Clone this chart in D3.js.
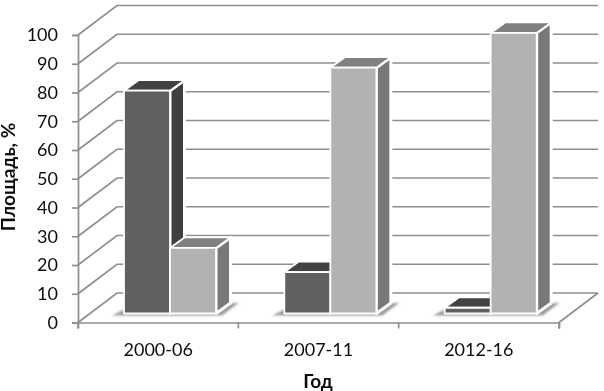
<!DOCTYPE html>
<html>
<head>
<meta charset="utf-8">
<script src="https://cdn.jsdelivr.net/npm/d3@7"></script>
<style>
  html, body { margin: 0; padding: 0; background: #fff; }
  svg { display: block; }
  text { font-family: Lato, "Open Sans", sans-serif; fill: #111; }
</style>
</head>
<body>
<div id="chart"></div>
<script>
var categories = ["2000-06", "2007-11", "2012-16"];
var seriesNames = ["a", "b"];
var seriesA = [77.5, 14.4, 2];
var seriesB = [22.8, 85.5, 97.6];
var yTicks = [0, 10, 20, 30, 40, 50, 60, 70, 80, 90, 100];

var width = 604, height = 391;

// front edge of the floor
var x0 = 78, x1 = 559, yBase = 322.5, yTop = 35;
// shift from front edge to back wall, and from front edge to the bars' plane
var wall = {dx: 39, dy: -29.5};
var plane = {dx: 12, dy: -9};
var depth = {dx: 14.5, dy: -10.5};

var colors = {
  a: {front: "#606060", top: "#424242", side: "#3f3f3f"},
  b: {front: "#b2b2b2", top: "#808080", side: "#787878"}
};
var gridColor = "#8e8e8e";

var svg = d3.select("#chart")
  .append("svg")
    .attr("width", width)
    .attr("height", height);

var defs = svg.append("defs");
defs.append("filter").attr("id", "soft")
    .attr("x", "-20%").attr("y", "-50%").attr("width", "140%").attr("height", "200%")
  .append("feGaussianBlur").attr("stdDeviation", 1.3);
defs.append("filter").attr("id", "txt")
  .append("feGaussianBlur").attr("stdDeviation", 0.25);

var x = d3.scaleBand().domain(categories).range([x0, x1]);
var xInner = d3.scaleBand().domain(seriesNames)
    .range([x.bandwidth() * 0.212, x.bandwidth() * 0.786]);
var y = d3.scaleLinear().domain([0, 100]).range([yBase, yTop]);

function poly(points) {
  return "M" + points.map(function(p) { return p[0] + "," + p[1]; }).join("L") + "Z";
}

// walls and grid
var grid = svg.append("g")
    .attr("fill", "none")
    .attr("stroke", gridColor)
    .attr("stroke-width", 1.7);

grid.selectAll("path.gridline")
  .data(yTicks)
  .enter()
  .append("path")
    .attr("class", "gridline")
    .attr("d", function(d) {
      return d3.line()([
        [x0, y(d)],
        [x0 + wall.dx, y(d) + wall.dy],
        [x1 + wall.dx, y(d) + wall.dy]
      ]);
    });

grid.append("path")
    .attr("d", d3.line()([[x1, yBase], [x1 + wall.dx, yBase + wall.dy]]));

// axes
var axisLeft = svg.append("g")
    .attr("transform", "translate(" + x0 + ",0)")
    .call(d3.axisLeft(y).tickValues(yTicks).tickSize(6).tickPadding(14));

var axisBottom = svg.append("g")
    .attr("transform", "translate(0," + yBase + ")")
    .call(d3.axisBottom(x).tickSizeOuter(6).tickSizeInner(6).tickPadding(15));

axisBottom.selectAll(".tick line").remove();
axisBottom.selectAll("line.edge")
  .data(d3.range(categories.length + 1))
  .enter()
  .append("line")
    .attr("class", "edge")
    .attr("x1", function(i) { return x0 + i * x.step(); })
    .attr("x2", function(i) { return x0 + i * x.step(); })
    .attr("y1", 0)
    .attr("y2", 6)
    .attr("stroke", gridColor)
    .attr("stroke-width", 1.7);

[axisLeft, axisBottom].forEach(function(a) {
  a.selectAll(".domain").attr("stroke", gridColor).attr("stroke-width", 1.7);
  a.selectAll(".tick line").attr("stroke", gridColor).attr("stroke-width", 1.7);
  a.selectAll("text")
    .style("font-family", 'Lato, "Open Sans", sans-serif')
    .style("font-size", "18px")
    .attr("fill", "#111")
    .attr("filter", "url(#txt)");
});

// bars
var groups = svg.selectAll("g.group")
  .data(categories)
  .enter()
  .append("g")
    .attr("class", "group")
    .attr("transform", function(d) {
      return "translate(" + (x(d) + plane.dx) + "," + plane.dy + ")";
    });

// shadow on the floor
groups.append("path")
    .attr("d", function() {
      var l = xInner.range()[0], r = xInner.range()[1];
      return poly([
        [l - 12, yBase + 2],
        [r + 6, yBase + 2],
        [r + 23, yBase - 11],
        [r + 4, yBase - 9],
        [l, yBase - 4]
      ]);
    })
    .attr("fill", "#9c9c9c")
    .attr("filter", "url(#soft)");

var values = {a: seriesA, b: seriesB};

seriesNames.forEach(function(name) {
  var bar = groups.append("g")
      .attr("stroke", "#fff")
      .attr("stroke-width", 1.8)
      .attr("stroke-linejoin", "round");

  function box(i) {
    var l = xInner(name), r = l + xInner.bandwidth(), t = y(values[name][i]);
    return {l: l, r: r, t: t, b: yBase};
  }

  bar.append("path")
      .attr("fill", colors[name].side)
      .attr("stroke-width", 3)
      .attr("d", function(d, i) {
        var s = box(i);
        return poly([
          [s.r, s.t],
          [s.r + depth.dx, s.t + depth.dy],
          [s.r + depth.dx, s.b + depth.dy],
          [s.r, s.b]
        ]);
      });

  bar.append("path")
      .attr("fill", colors[name].top)
      .attr("d", function(d, i) {
        var s = box(i);
        return poly([
          [s.l, s.t],
          [s.l + depth.dx, s.t + depth.dy],
          [s.r + depth.dx, s.t + depth.dy],
          [s.r, s.t]
        ]);
      });

  bar.append("rect")
      .attr("fill", colors[name].front)
      .attr("x", function(d, i) { return box(i).l; })
      .attr("y", function(d, i) { return box(i).t; })
      .attr("width", xInner.bandwidth())
      .attr("height", function(d, i) { return box(i).b - box(i).t; });
});

// axis titles
svg.append("text")
    .attr("transform", "translate(15,177) rotate(-90)")
    .attr("text-anchor", "middle")
    .style("font-size", "19px")
    .style("font-weight", "700")
    .attr("filter", "url(#txt)")
    .text("Площадь, %");

svg.append("text")
    .attr("x", 318)
    .attr("y", 388)
    .attr("text-anchor", "middle")
    .style("font-size", "19px")
    .style("font-weight", "700")
    .attr("filter", "url(#txt)")
    .text("Год");
</script>
</body>
</html>
